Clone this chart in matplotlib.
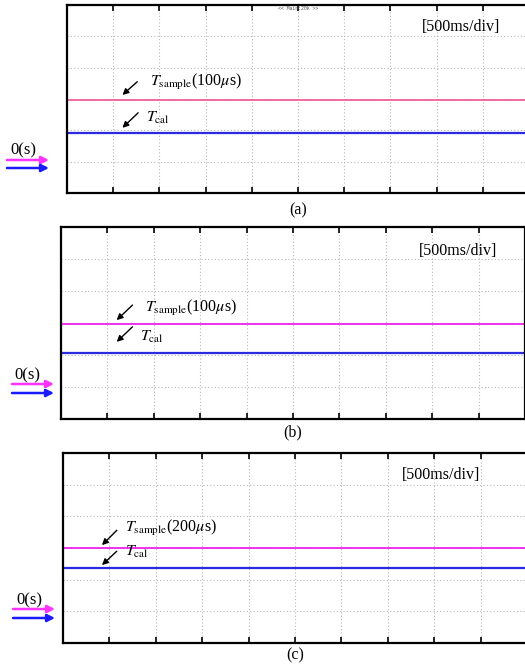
import matplotlib
matplotlib.use("Agg")
import matplotlib.pyplot as plt
import numpy as np

plt.rcParams["font.family"] = ["Liberation Serif", "DejaVu Serif"]
plt.rcParams["mathtext.fontset"] = "stix"

W, H = 525, 665

# time axis: 500 ms/div, 10 divisions
t = [0.0, 5.0]
panels = ["(a)", "(b)", "(c)"]
sample_labels = ["100", "100", "200"]
# trace levels in vertical divisions (0 = bottom, 6 = top)
sample_level = [2.97, 2.96, 2.99]
cal_level = [1.91, 2.06, 2.37]
sample_colors = ["#f0609a", "#f020f0", "#f020f0"]
cal_color = "#2a2ae0"

# axes boxes in pixels: left, top, bottom, width
boxes = [(67, 5, 193, 462), (61, 227, 419, 464), (63, 453, 643, 464)]
# annotations, in data units (s, div)
ann = [
    dict(sa=((0.76, 3.55), (0.60, 3.13)), st=(0.90, 3.55),
         ca=((0.77, 2.56), (0.60, 2.08)), ct=(0.86, 2.40), lbl=(4.27, 5.30)),
    dict(sa=((0.77, 3.56), (0.60, 3.09)), st=(0.90, 3.47),
         ca=((0.77, 2.88), (0.60, 2.41)), ct=(0.85, 2.56), lbl=(4.28, 5.25)),
    dict(sa=((0.58, 3.56), (0.42, 3.09)), st=(0.67, 3.63),
         ca=((0.58, 2.90), (0.42, 2.46)), ct=(0.67, 2.87), lbl=(4.07, 5.30)),
]
# left-side 0(s) marker and captions in pixels
zero_marks = [(10, 150, 160, 168, 7, 49), (14, 375, 384, 393, 12, 54),
              (16, 600, 609, 618, 13, 55)]
captions = [(298, 210), (293, 432), (295, 655)]

fig = plt.figure(figsize=(W / 100, H / 100), dpi=100)


def fx(px):
    return px / W


def fy(py):
    return 1 - py / H


for i in range(3):
    left, top, bottom, width = boxes[i]
    ax = fig.add_axes([fx(left), fy(bottom), width / W, (bottom - top) / H])
    ax.set_xlim(0, 5)
    ax.set_ylim(0, 6)
    ax.set_xticks(np.arange(0, 5.01, 0.5))
    ax.set_yticks(np.arange(0, 6.01, 1))
    ax.set_xticklabels([])
    ax.set_yticklabels([])
    ax.grid(True, color="#b8b8b8", linestyle=(0, (1, 2)), linewidth=0.8)
    ax.tick_params(axis="x", direction="in", length=4, width=1.2, top=True, bottom=True)
    ax.tick_params(axis="y", length=0)
    for s in ax.spines.values():
        s.set_linewidth(1.6)

    ax.plot(t, [sample_level[i]] * 2, color=sample_colors[i], lw=1.3)
    ax.plot(t, [cal_level[i]] * 2, color=cal_color, lw=1.6)

    a = ann[i]
    arrow = dict(arrowstyle="-|>", color="black", lw=1.0, mutation_scale=9,
                 shrinkA=0, shrinkB=0)
    ax.annotate("", xy=a["sa"][1], xytext=a["sa"][0], arrowprops=arrow)
    ax.annotate("", xy=a["ca"][1], xytext=a["ca"][0], arrowprops=arrow)
    ax.text(a["st"][0], a["st"][1], r"$T_{\rm sample}$(" + sample_labels[i] + r"$\mu$s)",
            fontsize=11.5, va="center", ha="left")
    ax.text(a["ct"][0], a["ct"][1], r"$T_{\rm cal}$", fontsize=11.5, va="center", ha="left")
    ax.text(a["lbl"][0], a["lbl"][1], "[500ms/div]", fontsize=11.5, va="center", ha="center")

    if i == 0:
        ax.text(2.5, 5.9, "<< Main:20k >>", fontsize=3.5, family="DejaVu Sans Mono",
                color="#555555", ha="center", va="center")

    zx, zy, py1, py2, x0, x1 = zero_marks[i]
    fig.text(fx(zx), fy(zy), "0(s)", fontsize=12, ha="left", va="center")
    fig.add_artist(matplotlib.patches.FancyArrowPatch(
        (fx(x0), fy(py1)), (fx(x1), fy(py1)), transform=fig.transFigure,
        arrowstyle="-|>", mutation_scale=11, color="#ff33ff", lw=1.8,
        shrinkA=0, shrinkB=0))
    fig.add_artist(matplotlib.patches.FancyArrowPatch(
        (fx(x0), fy(py2)), (fx(x1), fy(py2)), transform=fig.transFigure,
        arrowstyle="-|>", mutation_scale=11, color="#1a1aff", lw=1.8,
        shrinkA=0, shrinkB=0))

    cx, cy = captions[i]
    fig.text(fx(cx), fy(cy), panels[i], fontsize=11.5, ha="center", va="center")

fig.savefig("out.png", dpi=100)
